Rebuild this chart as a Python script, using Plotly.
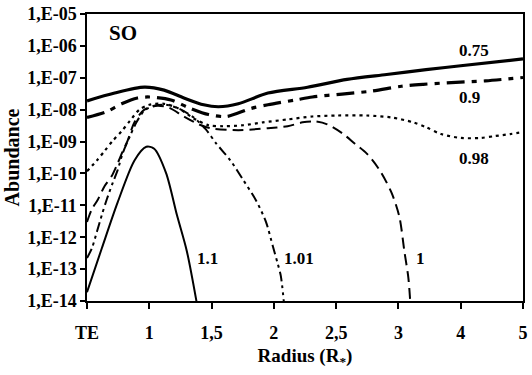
import plotly.graph_objects as go

# Category axis: TE, 1, 1,5, 2, 2,5, 3, 4, 5 (equally spaced positions 0..7)
tick_pos = [0, 1, 2, 3, 4, 5, 6, 7]
tick_text = ["TE", "1", "1,5", "2", "2,5", "3", "4", "5"]

y_tick_exp = [-5, -6, -7, -8, -9, -10, -11, -12, -13, -14]
y_tick_text = ["1,E-05", "1,E-06", "1,E-07", "1,E-08", "1,E-09",
               "1,E-10", "1,E-11", "1,E-12", "1,E-13", "1,E-14"]

# Curves: x = position on category axis, v = log10(abundance)
x_075 = [0, 0.444, 0.921, 1.238, 1.556, 1.873, 2.111, 2.429, 2.905, 3.54, 4.175, 4.81, 5.444, 6.0, 7.0]
v_075 = [-7.724, -7.479, -7.296, -7.388, -7.632, -7.847, -7.908, -7.816, -7.479, -7.296, -7.051, -6.898, -6.745, -6.622, -6.408]

x_09 = [0, 0.317, 0.556, 0.810, 1.0, 1.349, 1.635, 1.952, 2.238, 2.619, 2.905, 3.349, 3.619, 4.095, 4.571, 5.048, 5.397, 5.921, 6.397, 7.0]
v_09 = [-8.245, -8.061, -7.816, -7.632, -7.602, -7.694, -7.939, -8.153, -8.214, -7.969, -7.847, -7.694, -7.602, -7.510, -7.418, -7.265, -7.204, -7.143, -7.097, -6.990]

x_098 = [0, 0.159, 0.286, 0.413, 0.556, 0.683, 0.841, 1.0, 1.238, 1.476, 1.714, 1.952, 2.190, 2.508, 2.825, 3.222, 3.619, 4.016, 4.492, 4.889, 5.238, 5.444, 5.683, 6.0, 6.317, 6.556, 6.794, 7.0]
v_098 = [-9.928, -9.591, -9.285, -8.979, -8.673, -8.367, -8.0, -7.847, -7.816, -7.969, -8.275, -8.489, -8.520, -8.489, -8.398, -8.306, -8.214, -8.183, -8.183, -8.245, -8.398, -8.551, -8.765, -8.887, -8.887, -8.826, -8.765, -8.704]

x_1 = [0, 0.079, 0.175, 0.286, 0.397, 0.492, 0.571, 0.651, 0.762, 0.921, 1.127, 1.317, 1.556, 1.794, 1.984, 2.429, 2.905, 3.222, 3.460, 3.651, 3.857, 4.095, 4.302, 4.492, 4.698, 4.889, 5.016, 5.095, 5.159, 5.190]
v_1 = [-11.52, -11.12, -10.816, -10.387, -10.081, -9.683, -9.316, -8.979, -8.398, -8.0, -7.877, -7.939, -8.214, -8.459, -8.581, -8.643, -8.581, -8.520, -8.398, -8.367, -8.459, -8.734, -9.071, -9.377, -9.897, -10.601, -11.367, -12.438, -13.264, -14.03]

x_101 = [0, 0.079, 0.159, 0.238, 0.317, 0.413, 0.492, 0.571, 0.683, 0.794, 0.921, 1.079, 1.270, 1.476, 1.714, 1.905, 2.079, 2.302, 2.508, 2.714, 2.873, 2.984, 3.063, 3.111, 3.159]
v_101 = [-12.652, -12.346, -11.826, -11.306, -10.816, -10.295, -9.897, -9.377, -8.857, -8.398, -8.030, -7.877, -7.847, -7.969, -8.245, -8.612, -9.071, -9.591, -10.204, -10.846, -11.520, -12.285, -12.836, -13.203, -14.0]

x_11 = [0, 0.238, 0.492, 0.762, 0.952, 1.079, 1.270, 1.444, 1.603, 1.762]
v_11 = [-13.724, -12.346, -10.908, -9.591, -9.163, -9.224, -9.989, -11.306, -12.438, -14.06]

series = [
    (x_075, v_075, dict(color="black", width=3.2, dash="solid")),
    (x_09, v_09, dict(color="black", width=3.2, dash="18px,7px,5px,7px")),
    (x_098, v_098, dict(color="black", width=2.2, dash="3px,4px")),
    (x_1, v_1, dict(color="black", width=2, dash="11px,6px")),
    (x_101, v_101, dict(color="black", width=2, dash="10px,4px,3px,4px,3px,4px")),
    (x_11, v_11, dict(color="black", width=2, dash="solid")),
]

fig = go.Figure()
for xs, vs, ln in series:
    fig.add_trace(go.Scatter(
        x=xs, y=[10 ** v for v in vs], mode="lines",
        line=dict(shape="spline", smoothing=0.8, **ln),
        showlegend=False, hoverinfo="skip"))

FONT = "Liberation Serif, Times New Roman, serif"

labels = [
    ("SO", 0.571, -5.61, 21),
    ("0.75", 6.21, -6.13, 17),
    ("0.9", 6.14, -7.63, 17),
    ("0.98", 6.21, -9.53, 17),
    ("1.1", 1.94, -12.68, 17),
    ("1.01", 3.41, -12.68, 17),
    ("1", 5.35, -12.68, 17),
]
for txt, lx, ly, fs in labels:
    fig.add_annotation(x=lx, y=ly, text="<b>" + txt + "</b>", showarrow=False,
                       font=dict(family=FONT, size=fs, color="black"))

fig.update_layout(
    width=532, height=375,
    margin=dict(l=87, r=4, t=7, b=74),
    paper_bgcolor="white", plot_bgcolor="white",
    font=dict(family=FONT, color="black"),
    xaxis=dict(
        range=[0, 7], tickvals=tick_pos, ticktext=tick_text,
        showgrid=False, zeroline=False,
        showline=True, linecolor="black", linewidth=1.5, mirror=True,
        ticks="outside", ticklen=6, tickcolor="black", tickwidth=1.5,
        ticklabelstandoff=9,
        tickfont=dict(family=FONT, size=18, color="black", weight="bold"),
        title=dict(text="<b>Radius (R<sub>*</sub>)</b>", standoff=6,
                   font=dict(family=FONT, size=19, color="black")),
    ),
    yaxis=dict(
        type="log", range=[-14.0005, -4.9995],
        tickvals=[10 ** e for e in y_tick_exp], ticktext=y_tick_text,
        ticklabeloverflow="allow",
        showgrid=False, zeroline=False,
        showline=True, linecolor="black", linewidth=1.5, mirror=True,
        ticks="outside", ticklen=5, tickcolor="black", tickwidth=1.5,
        tickfont=dict(family=FONT, size=18, color="black", weight="bold"),
        title=dict(text="<b>Abundance</b>", standoff=2,
                   font=dict(family=FONT, size=20, color="black")),
    ),
)

fig.write_html("out.html", config={"displayModeBar": False},
               post_script="document.body.style.margin='0';")
